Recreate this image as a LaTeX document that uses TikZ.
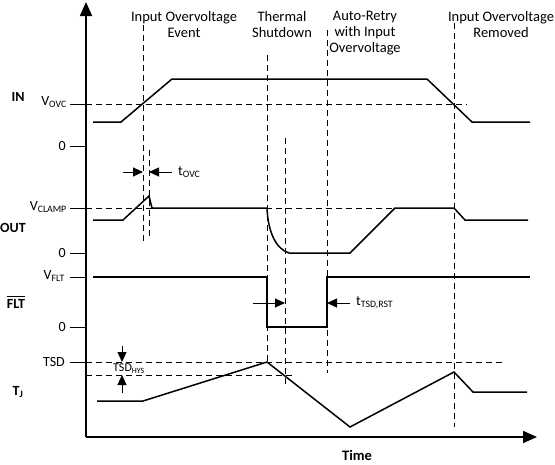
\documentclass[tikz,border=0pt]{standalone}
\usepackage{fontspec}
\setmainfont{Carlito}
\usetikzlibrary{arrows.meta}
\tikzset{
  wave/.style={line width=1.5pt, line join=miter},
  guide/.style={line width=0.9pt, dash pattern=on 6pt off 4pt},
  axisline/.style={line width=1.6pt},
  tick/.style={line width=1pt},
  dimarrow/.style={line width=0.9pt, -{Triangle[length=10pt,width=9pt]}},
  lbl/.style={font=\fontsize{14}{16}\selectfont, inner sep=0pt},
  sig/.style={font=\bfseries\fontsize{14}{16}\selectfont, inner sep=0pt},
  toplbl/.style={font=\fontsize{14.5}{16}\selectfont, align=center, inner sep=0pt},
}
\begin{document}
\begin{tikzpicture}[x=1pt,y=-1pt]
\useasboundingbox (0,0) rectangle (555,464);
% axes
\coordinate (o) at (86,437);
\coordinate (ytop) at (86,2);
\coordinate (xend) at (537,437);
\draw[axisline,-{Triangle[length=14pt,width=12pt]}] (o) -- (ytop);
\draw[axisline,-{Triangle[length=14pt,width=12pt]}] (o) -- (xend);
\node[font=\bfseries\fontsize{14.5}{16}\selectfont] (time) at (357,455) {Time};
% ticks
\foreach \y in {104,146,208,253,277,327,362} \draw[tick] (70,\y) -- (86,\y);
% vertical guides
\draw[guide] (143,25) -- (143,243);
\draw[guide] (149,150) -- (149,237);
\draw[guide] (267,55) -- (267,362);
\draw[guide] (285,138) -- (285,385);
\draw[guide] (327,30) -- (327,373);
\draw[guide] (454,23) -- (454,427);
% horizontal guides
\draw[guide] (86,104) -- (467,104);
\draw[guide] (86,208) -- (395,208);
\draw[guide] (86,362) -- (502,362);
\draw[guide] (86,375) -- (295,375);
% labels left
\node[sig] (in) at (18,97) {IN};
\node[sig] (out) at (13,228) {OUT};
\node[sig] (flt) at (16,304) {FLT};
\draw[line width=1.3pt] ([shift={(0,-2.5)}]flt.north west) -- ([shift={(0,-2.5)}]flt.north east);
\node[sig] (tj) at (18,392) {T\textsubscript{J}};
\node[lbl,anchor=east] (vovc) at (67,102) {V\textsubscript{OVC}};
\node[lbl,anchor=east] (z1) at (66,146) {0};
\node[lbl,anchor=east] (vclamp) at (67,207) {V\textsubscript{CLAMP}};
\node[lbl,anchor=east] (z2) at (66,253) {0};
\node[lbl,anchor=east] (vflt) at (65,276) {V\textsubscript{FLT}};
\node[lbl,anchor=east] (z3) at (66,327) {0};
\node[lbl,anchor=east] (tsd) at (65,362) {TSD};
% top labels
\node[toplbl,anchor=north] (l1) at (184,11) {Input Overvoltage\\Event};
\node[toplbl,anchor=north] (l2) at (282,11) {Thermal\\Shutdown};
\node[toplbl,anchor=north] (l3) at (365,11) {Auto-Retry\\with Input\\Overvoltage};
\node[toplbl,anchor=north] (l4) at (501,11) {Input Overvoltage\\Removed};
% IN waveform
\draw[wave] (93,122) -- (121,122) -- (172,79) -- (427,79) -- (472,122) -- (530,122);
% OUT waveform
\draw[wave] (93,220) -- (123,220) -- (149,196) -- (152,208) -- (267,208)
  .. controls (268,232) and (276,249) .. (289,253) -- (350,253) -- (395,208)
  -- (454,208) -- (465,220) -- (528,220);
% FLT waveform
\draw[wave] (93,277) -- (267,277) -- (267,327) -- (327,327) -- (327,277) -- (530,277);
% TJ waveform
\draw[wave] (97,401) -- (143,401) -- (267,362) -- (350,427) -- (454,372) -- (473,392) -- (527,392);
% tOVC arrows
\coordinate (a1s) at (123,172); \coordinate (a1e) at (143,172);
\coordinate (a2s) at (172,172); \coordinate (a2e) at (149,172);
\draw[dimarrow] (a1s) -- (a1e);
\draw[dimarrow] (a2s) -- (a2e);
\node[lbl,anchor=west] (tovc) at (178,172) {t\textsubscript{OVC}};
% tTSD,RST arrows
\coordinate (b1s) at (253,303); \coordinate (b1e) at (285,303);
\coordinate (b2s) at (350,303); \coordinate (b2e) at (327,303);
\draw[dimarrow] (b1s) -- (b1e);
\draw[dimarrow] (b2s) -- (b2e);
\node[lbl,anchor=west] (ttsd) at (356,303) {t\textsubscript{TSD,RST}};
% TSD HYS arrows
\coordinate (c1s) at (122,346); \coordinate (c1e) at (122,362);
\coordinate (c2s) at (122,393); \coordinate (c2e) at (122,375);
\draw[dimarrow] (c1s) -- (c1e);
\draw[dimarrow] (c2s) -- (c2e);
\node[font=\fontsize{12}{13}\selectfont,inner sep=0pt,anchor=west] (tsdhys) at (113,369) {TSD\textsubscript{HYS}};
\end{tikzpicture}
\end{document}
